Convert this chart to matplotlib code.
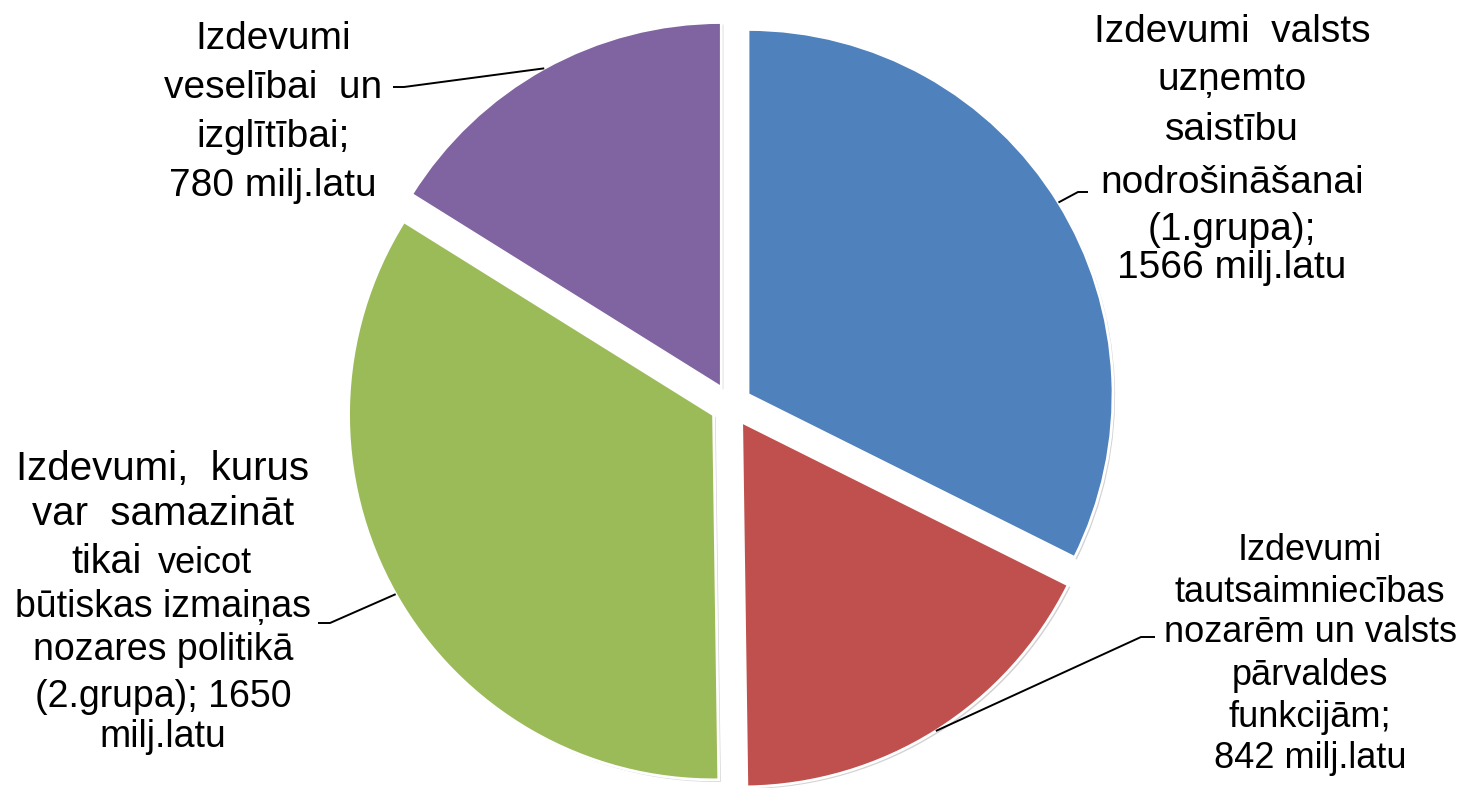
import numpy as np
import matplotlib.pyplot as plt
import matplotlib.patheffects as pe

W, H = 1461, 788

# slice values, milj. latu (clockwise from 12 o'clock)
values = [1566, 842, 1650, 780]
colors = ['#4F81BD', '#C0504D', '#9BBB59', '#8064A2']

lines_blue = ['Izdevumi  valsts', 'uzņemto', 'saistību', 'nodrošināšanai',
              '(1.grupa);', f'{values[0]} milj.latu']
lines_red = ['Izdevumi', 'tautsaimniecības', 'nozarēm un valsts', 'pārvaldes',
             'funkcijām;', f'{values[1]} milj.latu']
lines_green_top = ['Izdevumi,  kurus', 'var  samazināt']
lines_green = ['būtiskas izmaiņas', 'nozares politikā',
               f'(2.grupa); {values[2]}', 'milj.latu']
lines_purple = ['Izdevumi', 'veselībai  un', 'izglītībai;', f'{values[3]} milj.latu']

FONT = 'Liberation Sans'

fig = plt.figure(figsize=(W / 100, H / 100), dpi=100)
ax = fig.add_axes([0, 0, 1, 1])

# axes in pixel units (y up), so pie radius/explode are in px
shadow = [pe.SimplePatchShadow(offset=(1.5, -1.5), shadow_rgbFace='#808080', alpha=0.35),
          pe.Normal()]
wedges, _ = ax.pie(values, colors=colors, startangle=90, counterclock=False,
                   center=(731, H - 405), radius=365, explode=[20] * 4,
                   wedgeprops=dict(edgecolor='white', linewidth=2, path_effects=shadow))
ax.set_xlim(0, W)
ax.set_ylim(0, H)
ax.set_aspect('equal')
ax.axis('off')


def draw_lines(lines, x, baselines, size):
    for txt, yb in zip(lines, baselines):
        ax.text(x, H - yb, txt, ha='center', va='baseline', fontsize=size,
                family=FONT, color='black')


def leader(w, elbow, end):
    # starts on the arc at the wedge's middle angle
    t = np.deg2rad((w.theta1 + w.theta2) / 2)
    cx, cy = w.center
    px, py = cx + w.r * np.cos(t), cy + w.r * np.sin(t)
    ax.plot([px, elbow[0], end[0]], [py, H - elbow[1], H - end[1]],
            color='black', lw=1.4, solid_capstyle='butt')


draw_lines(lines_blue, 1232, [42, 90, 140, 193, 240, 278], 28)
draw_lines(lines_red, 1310, [560, 602, 642, 685, 727, 768], 26)
draw_lines(lines_green_top, 163, [480, 525], 29)
draw_lines(lines_green, 163, [617, 660, 707, 747], 27)
draw_lines(lines_purple, 273, [49, 98, 147, 196], 28)

# mixed sizes on the third green line
ax.text(142, H - 573, 'tikai', ha='right', va='baseline', fontsize=28.5, family=FONT)
ax.text(158, H - 573, 'veicot', ha='left', va='baseline', fontsize=26, family=FONT)

leader(wedges[0], (1078, 192), (1088, 192))
leader(wedges[1], (1141, 637), (1155, 637))
leader(wedges[2], (330, 623), (318, 623))
leader(wedges[3], (404, 87), (393, 87))

fig.savefig('out.png', dpi=100, facecolor='white')
